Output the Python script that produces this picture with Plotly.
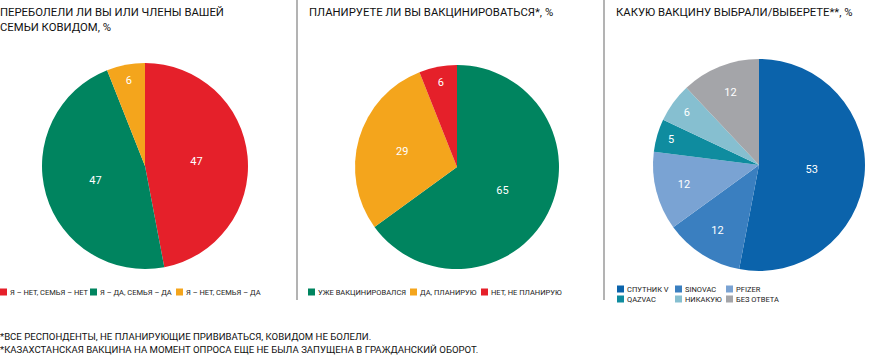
import plotly.graph_objects as go

# Data
q1_labels = ["Я – НЕТ, СЕМЬЯ – НЕТ", "Я – ДА, СЕМЬЯ – ДА", "Я – НЕТ, СЕМЬЯ – ДА"]
q1_values = [47, 47, 6]
q2_labels = ["УЖЕ ВАКЦИНИРОВАЛСЯ", "ДА, ПЛАНИРУЮ", "НЕТ, НЕ ПЛАНИРУЮ"]
q2_values = [65, 29, 6]
q3_labels = ["СПУТНИК V", "SINOVAC", "PFIZER", "QAZVAC", "НИКАКУЮ", "БЕЗ ОТВЕТА"]
q3_values = [53, 12, 12, 5, 6, 12]

titles = ["ПЕРЕБОЛЕЛИ ЛИ ВЫ ИЛИ ЧЛЕНЫ ВАШЕЙ<br>СЕМЬИ КОВИДОМ, %",
          "ПЛАНИРУЕТЕ ЛИ ВЫ ВАКЦИНИРОВАТЬСЯ*, %",
          "КАКУЮ ВАКЦИНУ ВЫБРАЛИ/ВЫБЕРЕТЕ**, %"]
footnotes = ["*ВСЕ РЕСПОНДЕНТЫ, НЕ ПЛАНИРУЮЩИЕ ПРИВИВАТЬСЯ, КОВИДОМ НЕ БОЛЕЛИ.",
             "*КАЗАХСТАНСКАЯ ВАКЦИНА НА МОМЕНТ ОПРОСА ЕЩЕ НЕ БЫЛА ЗАПУЩЕНА В ГРАЖДАНСКИЙ ОБОРОТ."]

RED, GREEN, ORANGE = "#e5202a", "#00845f", "#f4a51c"
c1 = [RED, GREEN, ORANGE]
c2 = [GREEN, ORANGE, RED]
c3 = ["#0b63ab", "#3a7fc0", "#7aa3d3", "#0f8c9f", "#86bfd0", "#a4a5a9"]

W, H = 870, 359
FONT = "Roboto, sans-serif"

def dom(cx, cy, r):
    return dict(x=[(cx - r) / W, (cx + r) / W], y=[1 - (cy + r) / H, 1 - (cy - r) / H])

fig = go.Figure()
specs = [(q1_labels, q1_values, c1, dom(145, 166, 103)),
         (q2_labels, q2_values, c2, dom(457, 167, 102)),
         (q3_labels, q3_values, c3, dom(759, 165, 106))]
for labels, values, colors, d in specs:
    fig.add_trace(go.Pie(
        labels=labels, values=values, sort=False, direction="clockwise", rotation=0,
        marker=dict(colors=colors, line=dict(width=0)),
        textinfo="value", textposition="inside",
        insidetextfont=dict(color="white", size=11, family=FONT),
        insidetextorientation="horizontal",
        domain=d, showlegend=False, hoverinfo="label+value"))

fig.update_layout(
    width=W, height=H, margin=dict(l=0, r=0, t=0, b=0),
    paper_bgcolor="white", plot_bgcolor="white",
    font=dict(family=FONT), showlegend=False,
)

# manual legends: (labels, colors, [(square_x, row_y), ...])
legend_layout = [
    (q1_labels, c1, [(0, 292), (90, 292), (176, 292)]),
    (q2_labels, c2, [(308, 292), (410, 292), (481, 292)]),
    (q3_labels, c3, [(617, 289), (675, 289), (726, 289), (617, 299), (675, 299), (726, 299)]),
]
for labels, colors, pos in legend_layout:
    for lab, col, (sx, sy) in zip(labels, colors, pos):
        fig.add_shape(type="rect", xref="paper", yref="paper",
                      x0=sx / W, x1=(sx + 7) / W, y0=1 - (sy + 3.5) / H, y1=1 - (sy - 3.5) / H,
                      fillcolor=col, line=dict(width=0))
        fig.add_annotation(text=lab, x=(sx + 9) / W, y=1 - sy / H, xref="paper", yref="paper",
                           xanchor="left", yanchor="middle", showarrow=False, borderpad=0,
                           font=dict(size=7.5, family=FONT, color="#1a1a1a"))

title_x = [-1, 308, 615]
for t, x in zip(titles, title_x):
    fig.add_annotation(text=t, x=x / W, y=1 - 5 / H, xref="paper", yref="paper",
                       xanchor="left", yanchor="top", align="left", showarrow=False, borderpad=0,
                       font=dict(size=11.3, family=FONT, color="#111"))
for i, f in enumerate(footnotes):
    fig.add_annotation(text=f, x=-1 / W, y=1 - (336 + 13.5 * i) / H, xref="paper", yref="paper",
                       xanchor="left", yanchor="middle", align="left", showarrow=False, borderpad=0,
                       font=dict(size=9.6, family=FONT, color="#111"))

for xs in [297, 604]:
    fig.add_shape(type="line", xref="paper", yref="paper", x0=xs / W, x1=xs / W,
                  y0=1 - 300 / H, y1=1, line=dict(color="#9a9a9a", width=1.5))

fig.write_html("out.html", config={"displayModeBar": False},
               post_script="document.body.style.margin='0';document.body.style.overflow='hidden';")
